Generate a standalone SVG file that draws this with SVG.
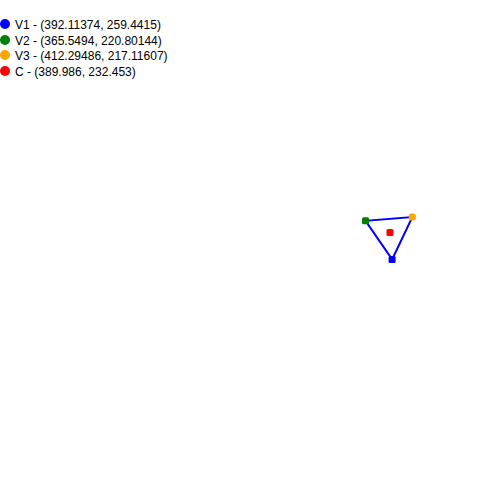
<svg xmlns="http://www.w3.org/2000/svg" width="500" height="500" viewBox="0 0 500 500">
<style>
.lbl{font-family:"Liberation Sans",Arial,sans-serif;font-size:12px;fill:#000}
.edge{stroke:#0000ff;stroke-width:2;fill:none}
</style>
<rect width="500" height="500" fill="#fff"/>
<g id="legend">
<circle cx="5" cy="24" r="5" fill="#0000ff"/>
<text class="lbl" x="15" y="28.5">V1 - (392.11374, 259.4415)</text>
<circle cx="5" cy="40" r="5" fill="#008000"/>
<text class="lbl" x="15" y="44.5">V2 - (365.5494, 220.80144)</text>
<circle cx="5" cy="55" r="5" fill="#ffa500"/>
<text class="lbl" x="15" y="59.5">V3 - (412.29486, 217.11607)</text>
<circle cx="5" cy="71" r="5" fill="#ff0000"/>
<text class="lbl" x="15" y="75.5">C - (389.986, 232.453)</text>
</g>
<g id="connectors">
<polygon class="edge" points="392.11374,259.4415 365.5494,220.80144 412.29486,217.11607"/>
</g>
<g id="V1"><rect x="388.6" y="255.9" width="7" height="7" rx="1.5" fill="#0000ff"/></g>
<g id="V2"><rect x="362" y="217.3" width="7" height="7" rx="1.5" fill="#008000"/></g>
<g id="V3"><rect x="408.8" y="213.6" width="7" height="7" rx="2.5" fill="#ffa500"/></g>
<g id="C"><rect x="386.5" y="229" width="7" height="7" rx="1.5" fill="#ff0000"/></g>
</svg>
